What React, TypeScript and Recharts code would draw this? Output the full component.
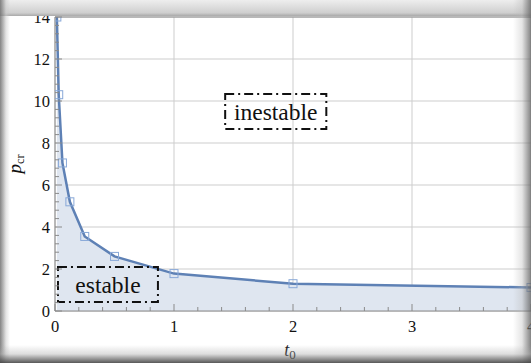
import { ComposedChart, Area, XAxis, YAxis, CartesianGrid, ReferenceArea, ReferenceLine, Label } from "recharts";

const t0 = [1 / 64, 1 / 32, 1 / 16, 1 / 8, 1 / 4, 1 / 2, 1, 2, 4];
const pcr = [14, 10.3, 7.05, 5.2, 3.55, 2.6, 1.78, 1.3, 1.12];

const xMajor = [0, 1, 2, 3, 4];
const yMajor = [0, 2, 4, 6, 8, 10, 12, 14];

const regionNames = ["estable", "inestable"];
const regionX = [[0.025, 0.865], [1.43, 2.28]];
const regionY = [[0.43, 2.1], [8.67, 10.33]];

const SERIF = "'Liberation Serif', 'DejaVu Serif', serif";
const LINE = "#5e81b5";
const FILL = "#dfe6f0";
const MARK = "#88a8d8";
const AXIS = "#8a8a8a";

// minor ticks: 5 subdivisions per major interval
const withMinor = (major: number[]) => {
  const out: number[] = [];
  for (let i = 0; i < major.length - 1; i++) {
    const step = (major[i + 1] - major[i]) / 5;
    for (let k = 0; k < 5; k++) out.push(+(major[i] + k * step).toFixed(4));
  }
  out.push(major[major.length - 1]);
  return out;
};

const data = t0.map((t, i) => ({ t, p: pcr[i] }));

const isMajor = (v: number, list: number[]) => list.some((m) => Math.abs(m - v) < 1e-6);

const XTick = (props: any) => {
  const { x, y, payload } = props;
  const major = isMajor(payload.value, xMajor);
  return (
    <g>
      <line x1={x} x2={x} y1={y} y2={y - (major ? 7 : 4)} stroke={AXIS} />
      {major && (
        <text x={x} y={y + 21} textAnchor="middle" fontFamily={SERIF} fontSize={16.5} fill="#111">
          {payload.value}
        </text>
      )}
    </g>
  );
};

const YTick = (props: any) => {
  const { x, y, payload } = props;
  const major = isMajor(payload.value, yMajor);
  return (
    <g>
      <line x1={x} x2={x + (major ? 7 : 4)} y1={y} y2={y} stroke={AXIS} />
      {major && (
        <text x={x - 5} y={y + 5.5} textAnchor="end" fontFamily={SERIF} fontSize={16.5} fill="#111">
          {payload.value}
        </text>
      )}
    </g>
  );
};

const SquareDot = (props: any) => {
  const { cx, cy, index } = props;
  if (cx == null || cy == null) return <g key={index} />;
  return <rect key={index} x={cx - 4} y={cy - 4} width={8} height={8} fill="none" stroke={MARK} strokeWidth={1} />;
};

export default function App() {
  return (
    <div style={{ position: "fixed", left: 0, top: 0, width: 531, height: 363, overflow: "hidden", background: "#fff" }}>
      <ComposedChart width={560} height={363} data={data} margin={{ top: 17, right: 29, bottom: 22, left: 0 }}>
        <CartesianGrid stroke="#cdcdcd" horizontalValues={yMajor} verticalValues={xMajor} />
        <XAxis
          dataKey="t"
          type="number"
          domain={[0, 4]}
          ticks={withMinor(xMajor)}
          interval={0}
          tickSize={0}
          tickMargin={0}
          tickLine={false}
          tick={<XTick />}
          stroke={AXIS}
          height={30}
          allowDataOverflow
        >
          <Label
            content={(p: any) => {
              const vb = p.viewBox;
              return (
                <text x={vb.x + vb.width / 2 - 3} y={vb.y + 45} fontFamily={SERIF} fontSize={18} fill="#111" textAnchor="middle">
                  <tspan fontStyle="italic">t</tspan>
                  <tspan fontSize={13} dy={3}>0</tspan>
                </text>
              );
            }}
          />
        </XAxis>
        <YAxis
          type="number"
          domain={[0, 14]}
          ticks={withMinor(yMajor)}
          interval={0}
          tickSize={0}
          tickMargin={0}
          tickLine={false}
          tick={<YTick />}
          stroke={AXIS}
          width={55}
          allowDataOverflow
        >
          <Label
            content={(p: any) => {
              const vb = p.viewBox;
              const cy = vb.y + vb.height / 2;
              return (
                <text
                  x={0}
                  y={0}
                  transform={`translate(21, ${cy}) rotate(-90)`}
                  fontFamily={SERIF}
                  fontSize={19}
                  fill="#111"
                  textAnchor="middle"
                >
                  <tspan fontStyle="italic">p</tspan>
                  <tspan fontSize={12} dy={3}>cr</tspan>
                </text>
              );
            }}
          />
        </YAxis>
        <ReferenceLine y={14} stroke={AXIS} />
        <Area
          type="linear"
          dataKey="p"
          stroke={LINE}
          strokeWidth={2.5}
          fill={FILL}
          fillOpacity={1}
          dot={<SquareDot />}
          activeDot={false}
          isAnimationActive={false}
        />
        {regionNames.map((name, i) => (
          <ReferenceArea
            key={name}
            x1={regionX[i][0]}
            x2={regionX[i][1]}
            y1={regionY[i][0]}
            y2={regionY[i][1]}
            fill="none"
            fillOpacity={0}
            stroke="#111"
            strokeWidth={2}
            strokeDasharray="9 4 2 4"
            label={{ value: name, position: "center", fontFamily: SERIF, fontSize: 23.5, fill: "#111" }}
          />
        ))}
      </ComposedChart>
      <div style={{ position: "absolute", left: 0, top: 0, width: 531, height: 16, background: "linear-gradient(to bottom, #eeeeee, #cfcfcf 80%, #a9a9a9)" }} />
      <div style={{ position: "absolute", left: 0, top: 0, width: 10, height: 363, background: "linear-gradient(to right, rgba(110,110,110,0.85), rgba(200,200,200,0.5) 60%, rgba(255,255,255,0))" }} />
      <div style={{ position: "absolute", left: 513, top: 0, width: 18, height: 363, background: "linear-gradient(to left, rgba(100,100,100,0.8), rgba(180,180,180,0.35) 50%, rgba(255,255,255,0))" }} />
      <div style={{ position: "absolute", left: 0, top: 345, width: 531, height: 18, background: "linear-gradient(to top, rgba(70,70,70,0.9), rgba(170,170,170,0.4) 50%, rgba(255,255,255,0))" }} />
    </div>
  );
}
